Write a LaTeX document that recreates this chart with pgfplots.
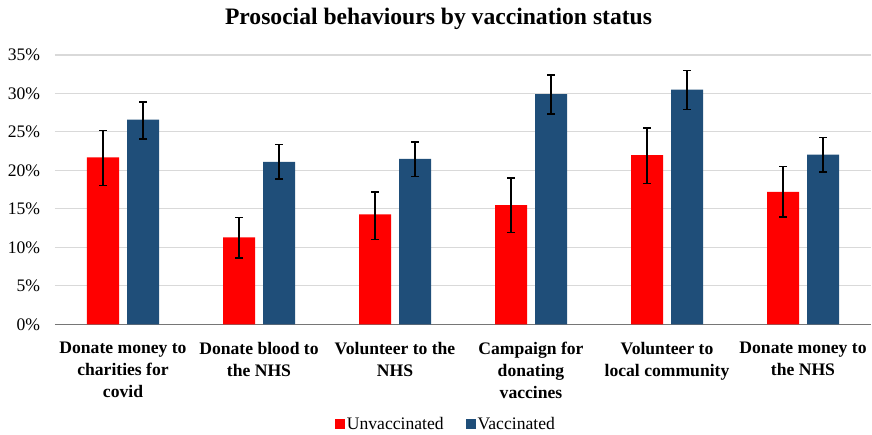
\documentclass[border=0pt]{standalone}
\usepackage{pgfplots}
\pgfplotsset{compat=1.18}
\usepackage{pgfplotstable}
\usepackage{fontspec}
\setmainfont{Liberation Serif}
\definecolor{unvac}{RGB}{255,0,0}
\definecolor{vac}{RGB}{31,78,121}
\definecolor{gridc}{RGB}{217,217,217}
\definecolor{axisc}{RGB}{118,118,118}
\pgfplotstableread{
x y ep em
0 21.7 3.5 3.7
1 11.3 2.6 2.7
2 14.3 2.9 3.25
3 15.5 3.5 3.6
4 22.0 3.5 3.7
5 17.2 3.3 3.25
}\unvacdata
\pgfplotstableread{
x y ep em
0 26.6 2.3 2.5
1 21.1 2.3 2.2
2 21.5 2.2 2.3
3 29.9 2.5 2.55
4 30.5 2.5 2.6
5 22.05 2.25 2.25
}\vacdata
\begin{document}
\begin{tikzpicture}
\begin{axis}[
  scale only axis,
  width=612pt, height=202pt,
  xmin=-0.5, xmax=5.5,
  ymin=0, ymax=35,
  ytick={0,5,...,35},
  xtick={0,...,5},
  xticklabels={{Donate money to\\charities for\\covid},{Donate blood to\\the NHS},{Volunteer to the\\NHS},{Campaign for\\donating\\vaccines},{Volunteer to\\local community},{Donate money to\\the NHS}},
  ybar=6pt, bar width=24pt,
  separate axis lines,
  axis x line*=bottom, axis y line*=left,
  x axis line style={-, draw=axisc, line width=1.1pt},
  y axis line style={draw=none},
  major tick length=0pt,
  ymajorgrids, major grid style={draw=gridc, line width=0.8pt},
  /pgf/number format/assume math mode=true,
  yticklabel={\pgfmathprintnumber{\tick}\%},
  yticklabel style={font=\fontsize{13.2}{16}\selectfont, inner sep=0pt, xshift=-11pt},
  xticklabel style={font=\fontsize{13.2}{16.5}\selectfont\bfseries, align=center, anchor=north, inner sep=0pt, yshift=-13pt},
  title={\textbf{Prosocial behaviours by vaccination status}},
  title style={font=\fontsize{17.7}{20}\selectfont, at={(axis description cs:0.47,1.104)}, anchor=center, yshift=0pt},
  legend columns=2,
  legend style={at={(axis description cs:0.479,-0.37)}, anchor=center, draw=none, font=\fontsize{13.2}{16}\selectfont, /tikz/every even column/.style={column sep=15pt}, nodes={inner sep=1.5pt}},
  legend image code/.code={\fill[#1] (0pt,-3.5pt) rectangle (7.5pt,4pt);},
  error bars/y dir=both, error bars/y explicit,
  error bars/error bar style={black, line width=1pt},
  error bars/error mark options={black, line width=1pt, rotate=90, mark size=3pt},
]
\addplot[fill=unvac, draw=none] table[x=x, y=y, y error plus=ep, y error minus=em]{\unvacdata};
\addplot[fill=vac, draw=none] table[x=x, y=y, y error plus=ep, y error minus=em]{\vacdata};
\legend{Unvaccinated, Vaccinated}
\end{axis}
\pgfresetboundingbox
\path ([shift={(-41.25pt,-82.3pt)}]current axis.south west) rectangle ([shift={(0.75pt,41.25pt)}]current axis.north east);
\end{tikzpicture}
\end{document}
